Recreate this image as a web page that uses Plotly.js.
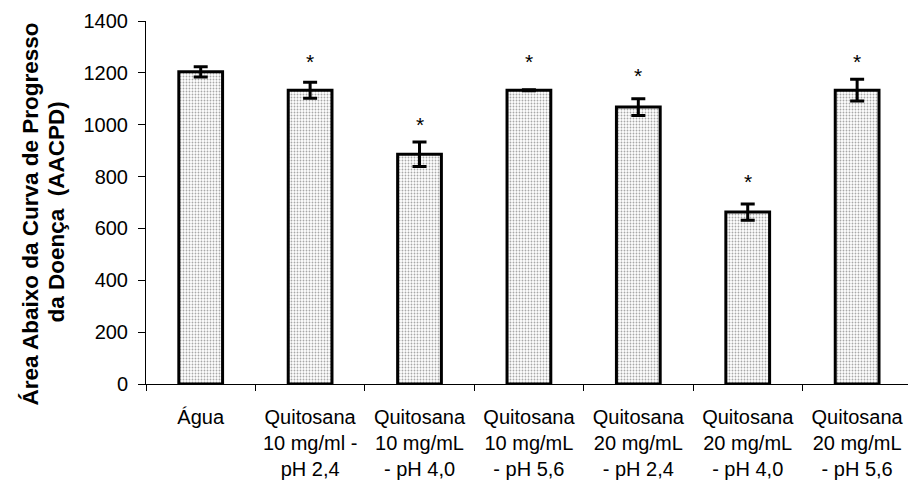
<!DOCTYPE html>
<html>
<head>
<meta charset="utf-8">
<script src="https://cdn.plot.ly/plotly-3.0.1.min.js"></script>
<style>html,body{margin:0;padding:0;background:#fff;}#chart{width:908px;height:482px;}</style>
</head>
<body>
<div id="chart"></div>
<script>
const categories = [
  "Água",
  "Quitosana<br>10 mg/ml -<br>pH 2,4",
  "Quitosana<br>10 mg/mL<br>- pH 4,0",
  "Quitosana<br>10 mg/mL<br>- pH 5,6",
  "Quitosana<br>20 mg/mL<br>- pH 2,4",
  "Quitosana<br>20 mg/mL<br>- pH 4,0",
  "Quitosana<br>20 mg/mL<br>- pH 5,6"
];
const aacpd = [1204, 1133, 886, 1133, 1068, 663, 1133];
const errors = [20, 31, 47, 2, 32, 31, 42];
const significant = [false, true, true, true, true, true, true];
const asteriskY = [null, 1253, 1007, 1253, 1196, 787, 1253];
const yTicks = [0, 200, 400, 600, 800, 1000, 1200, 1400];

const FONT = "Liberation Sans, Arial, sans-serif";

const trace = {
  type: "bar",
  x: categories,
  y: aacpd,
  width: 0.4,
  marker: {
    color: "#ffffff",
    pattern: {shape: ".", fgcolor: "#a8a8a8", bgcolor: "#ffffff", size: 3, solidity: 0.3},
    line: {color: "#000000", width: 3}
  },
  error_y: {type: "data", array: errors, visible: true, color: "#000000", thickness: 3, width: 7},
  hoverinfo: "skip"
};

const annotations = [];
categories.forEach((c, i) => {
  if (significant[i]) {
    annotations.push({
      x: c, y: asteriskY[i], xref: "x", yref: "y",
      text: "*", showarrow: false, yanchor: "middle", xanchor: "center",
      yshift: -2,
      font: {family: FONT, size: 21, color: "#000"}
    });
  }
});
annotations.push({
  xref: "paper", yref: "paper", x: 0, y: 0.5, xanchor: "center", yanchor: "middle",
  xshift: -116, yshift: -12, textangle: -90, showarrow: false,
  text: "<b>Área Abaixo da Curva de Progresso</b>",
  font: {family: FONT, size: 22.5, color: "#000"}
});
annotations.push({
  xref: "paper", yref: "paper", x: 0, y: 0.5, xanchor: "center", yanchor: "middle",
  xshift: -90, yshift: -10, textangle: -90, showarrow: false,
  text: "<b>da Doença\u00a0\u00a0(AACPD)</b>",
  font: {family: FONT, size: 22.5, color: "#000"}
});

const layout = {
  width: 908, height: 482,
  margin: {l: 146, r: 0, t: 21, b: 98, pad: 0},
  paper_bgcolor: "#ffffff", plot_bgcolor: "#ffffff",
  showlegend: false,
  xaxis: {
    type: "category",
    range: [-0.5, 6.465],
    showline: true, linecolor: "#000", linewidth: 1,
    ticks: "outside", tickson: "boundaries", ticklen: 6, tickcolor: "#000", tickwidth: 1,
    showgrid: false, zeroline: false,
    tickfont: {family: FONT, size: 20, color: "#000"},
    ticklabelstandoff: 15,
    fixedrange: true
  },
  yaxis: {
    range: [0, 1400],
    tickvals: yTicks,
    ticktext: yTicks.map(String),
    showline: true, linecolor: "#000", linewidth: 1,
    ticks: "outside", ticklen: 7, tickcolor: "#000", tickwidth: 1,
    showgrid: false, zeroline: false,
    tickfont: {family: FONT, size: 20, color: "#000"},
    ticklabelstandoff: 6,
    fixedrange: true
  },
  annotations: annotations
};

Plotly.newPlot("chart", [trace], layout, {displayModeBar: false, staticPlot: true});
</script>
</body>
</html>
